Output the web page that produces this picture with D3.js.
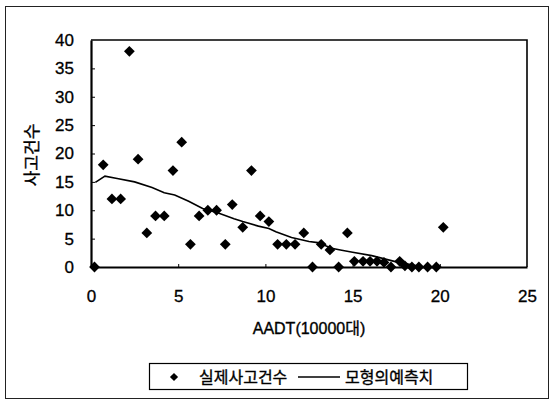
<!DOCTYPE html>
<html>
<head>
<meta charset="utf-8">
<script src="https://cdn.jsdelivr.net/npm/d3@7"></script>
<style>
  body { margin: 0; background: #fff; }
  text { font-family: "Liberation Sans", Arial, "Noto Sans CJK KR", sans-serif; fill: #000; }
  .kr { font-family: "Liberation Sans", "Noto Sans CJK KR", sans-serif; stroke: #000; stroke-width: 0.35; }
</style>
</head>
<body>
<svg id="chart" width="554" height="405"></svg>
<script>
// observed accidents (diamonds)
const aadt = [0.2, 0.7, 1.2, 1.7, 2.2, 2.7, 3.2, 3.7, 4.2, 4.7, 5.2, 5.7, 6.2, 6.7, 7.2, 7.7, 8.1, 8.7, 9.2, 9.7,
  10.2, 10.7, 11.2, 11.7, 12.2, 12.7, 13.2, 13.7, 14.2, 14.7, 15.1, 15.6, 16.0, 16.4, 16.8, 17.2, 17.7, 18.0,
  18.4, 18.8, 19.3, 19.8, 20.2];
const accidents = [0, 18, 12, 12, 38, 19, 6, 9, 9, 17, 22, 4, 9, 10, 10, 4, 11, 7, 17, 9,
  8, 4, 4, 4, 6, 0, 4, 3, 0, 6, 1, 1, 1, 1, 0.8, 0, 1, 0.2,
  0, 0, 0, 0, 7];

// model prediction (line)
const modelX = [0.25, 0.8, 1.5, 2.5, 3.5, 4.2, 4.8, 5.6, 6.4, 7.3, 8.2, 8.7, 9.6, 10.2, 10.6, 11.5, 12.5, 13.0,
  13.8, 14.3, 15.0, 16.1, 17.5, 18.9, 20.0];
const modelY = [14.9, 16.0, 15.6, 15.0, 14.0, 13.1, 12.7, 11.6, 10.3, 9.5, 8.5, 8.0, 7.2, 6.8, 6.2, 5.2, 4.5, 4.3,
  3.3, 3.0, 2.6, 2.0, 0.9, 0.1, 0.0];

const xTicks = [0, 5, 10, 15, 20, 25];
const yTicks = [0, 5, 10, 15, 20, 25, 30, 35, 40];

const xLabel = "AADT(10000대)";
const yLabel = "사고건수";
const legendObserved = "실제사고건수";
const legendModel = "모형의예측치";

const svg = d3.select("#chart");
const margin = {top: 40, left: 91};
const width = 436, height = 227;

// outer frame
svg.append("rect")
  .attr("x", 5.5).attr("y", 6.5)
  .attr("width", 543).attr("height", 392)
  .attr("fill", "none").attr("stroke", "#222").attr("stroke-width", 1);

const g = svg.append("g").attr("transform", `translate(${margin.left},${margin.top})`);

const x = d3.scaleLinear().domain([0, 25]).range([0, width]);
const y = d3.scaleLinear().domain([0, 40]).range([height, 0]);

// top and right sides of plot box
g.append("path")
  .attr("d", `M0,0H${width}V${height}`)
  .attr("fill", "none").attr("stroke", "#000").attr("stroke-width", 1.6);

const xAxis = g.append("g").attr("transform", `translate(0,${height})`)
  .call(d3.axisBottom(x).tickValues(xTicks).tickSize(-3).tickPadding(23).tickSizeOuter(0));
const yAxis = g.append("g")
  .call(d3.axisLeft(y).tickValues(yTicks).tickSize(-4).tickPadding(17).tickSizeOuter(0));

[xAxis, yAxis].forEach(ax => {
  ax.select(".domain").attr("stroke", "#000").attr("stroke-width", 2.2);
  ax.selectAll(".tick line").attr("stroke", "#000").attr("stroke-width", 1);
  ax.selectAll(".tick text")
    .attr("font-size", 17)
    .attr("font-family", "Liberation Sans, Arial, sans-serif")
    .attr("stroke", "#000").attr("stroke-width", 0.3);
});
xAxis.selectAll(".tick").filter(d => d === 0 || d === 25).select("line").remove();
yAxis.selectAll(".tick").filter(d => d === 0 || d === 40).select("line").remove();

// model line
const line = d3.line().x((d, i) => x(modelX[i])).y(d => y(d));
g.append("path")
  .datum(modelY)
  .attr("d", line)
  .attr("fill", "none").attr("stroke", "#000").attr("stroke-width", 1.6);

// observed diamonds
const diamond = d3.symbol(d3.symbolSquare, 58);
g.selectAll(".pt")
  .data(accidents)
  .join("path")
  .attr("class", "pt")
  .attr("d", diamond)
  .attr("transform", (d, i) => `translate(${x(aadt[i])},${y(d)}) rotate(45)`)
  .attr("fill", "#000");

// axis titles
svg.append("text")
  .attr("class", "kr")
  .attr("x", 309).attr("y", 334)
  .attr("text-anchor", "middle")
  .attr("font-size", 16)
  .text(xLabel);

svg.append("text")
  .attr("class", "kr")
  .attr("transform", "translate(38,155) rotate(-90)")
  .attr("text-anchor", "middle")
  .attr("font-size", 17)
  .text(yLabel);

// legend
const lg = svg.append("g");
lg.append("rect")
  .attr("x", 149.5).attr("y", 363.5)
  .attr("width", 318).attr("height", 26)
  .attr("fill", "#fff").attr("stroke", "#000").attr("stroke-width", 1.2);
lg.append("path")
  .attr("d", d3.symbol(d3.symbolSquare, 34))
  .attr("transform", "translate(174,377) rotate(45)")
  .attr("fill", "#000");
lg.append("text")
  .attr("class", "kr")
  .attr("x", 199).attr("y", 383)
  .attr("font-size", 16)
  .text(legendObserved);
lg.append("line")
  .attr("x1", 298).attr("x2", 340).attr("y1", 377).attr("y2", 377)
  .attr("stroke", "#000").attr("stroke-width", 1.4);
lg.append("text")
  .attr("class", "kr")
  .attr("x", 345).attr("y", 383)
  .attr("font-size", 16)
  .text(legendModel);
</script>
</body>
</html>
